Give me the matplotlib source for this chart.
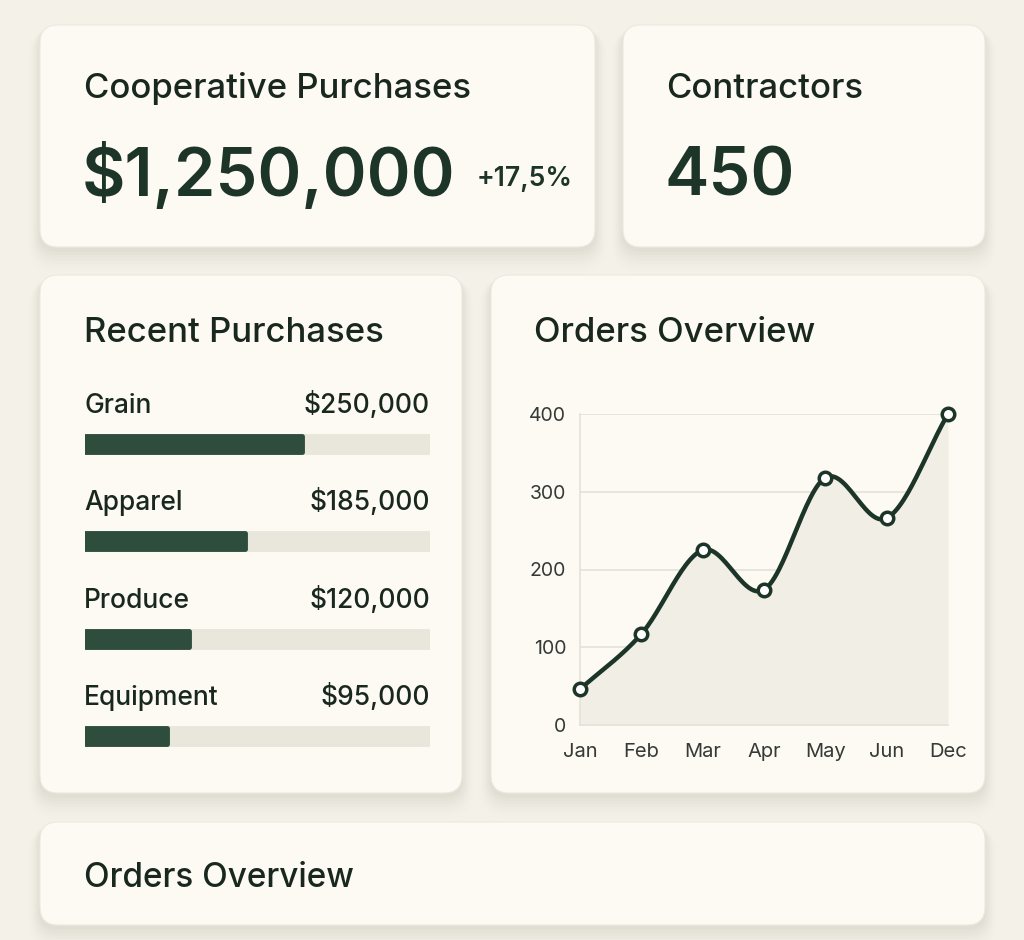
import numpy as np
import matplotlib
matplotlib.use("Agg")
import matplotlib.pyplot as plt
from matplotlib.patches import FancyBboxPatch

plt.rcParams['font.family'] = ['Inter', 'DejaVu Sans']

# ---------------- data ----------------
kpi_title_1 = "Cooperative Purchases"
kpi_value_1 = "$1,250,000"
kpi_change_1 = "+17,5%"
kpi_title_2 = "Contractors"
kpi_value_2 = "450"

categories = ["Grain", "Apparel", "Produce", "Equipment"]
purchases = [250000, 185000, 120000, 95000]
purchase_scale_max = 398000

months = ["Jan", "Feb", "Mar", "Apr", "May", "Jun", "Dec"]
orders = [46, 117, 225, 174, 318, 266, 400]
order_ticks = [0, 100, 200, 300, 400]

# ---------------- style ----------------
W, H = 1024, 940
BG = "#f3f1e8"
CARD = "#fcfaf3"
TEXT = "#19281f"
GREEN = "#1d3528"
BAR = "#2e4d3c"
TRACK = "#e9e7dc"
FILL = "#f1efe5"
GRID = "#e4e2d8"
TICK = "#363a37"

fig = plt.figure(figsize=(W / 100, H / 100), dpi=100, facecolor=BG)
bg = fig.add_axes([0, 0, 1, 1])
bg.set_xlim(0, W)
bg.set_ylim(H, 0)
bg.axis("off")
bg.set_facecolor(BG)


def card(x0, y0, x1, y1, r=18):
    # soft shadow
    for i, a in enumerate([0.03, 0.026, 0.022, 0.018, 0.014, 0.011, 0.008, 0.006]):
        g = 2 + i * 3
        bg.add_patch(FancyBboxPatch((x0 - g / 2, y0 + 3), x1 - x0 + g, y1 - y0 + g,
                                    boxstyle=f"round,pad=0,rounding_size={r + g / 2}",
                                    fc="#8a8570", ec="none", alpha=a, zorder=1))
    bg.add_patch(FancyBboxPatch((x0, y0), x1 - x0, y1 - y0,
                                boxstyle=f"round,pad=0,rounding_size={r}",
                                fc=CARD, ec="#ece9df", lw=0.8, zorder=2))


card(40, 25, 595, 247)
card(623, 25, 985, 247)
card(40, 275, 462, 793)
card(491, 275, 985, 793)
card(40, 822, 985, 925)

# KPI cards
bg.text(84, 98, kpi_title_1, fontsize=25, fontweight="medium", color=TEXT, va="baseline", zorder=5)
bg.text(82, 196, kpi_value_1, fontsize=48, fontweight="semibold", color=GREEN, va="baseline", zorder=5)
bg.text(477, 186, kpi_change_1, fontsize=19, fontweight="semibold", color=GREEN, va="baseline", zorder=5)
bg.text(666, 98, kpi_title_2, fontsize=25, fontweight="medium", color=TEXT, va="baseline", zorder=5)
bg.text(664, 196, kpi_value_2, fontsize=48, fontweight="semibold", color=GREEN, va="baseline", zorder=5)

# Section titles
bg.text(84, 342, "Recent Purchases", fontsize=25, fontweight="medium", color=TEXT, va="baseline", zorder=5)
bg.text(534, 342, "Orders Overview", fontsize=25, fontweight="medium", color=TEXT, va="baseline", zorder=5)
bg.text(84, 887, "Orders Overview", fontsize=24, fontweight="medium", color=TEXT, va="baseline", zorder=5)

# ---------------- Recent purchases bars ----------------
row0, step = 444, 97.3
bx0, bx1 = 85, 430
top_px, bot_px = row0 - 0.5 * step, row0 + 3.5 * step
bax = fig.add_axes([bx0 / W, 1 - bot_px / H, (bx1 - bx0) / W, (bot_px - top_px) / H])
bax.set_xlim(0, purchase_scale_max)
bax.set_ylim(3.5, -0.5)
bax.axis("off")
bax.patch.set_alpha(0)
ypos = np.arange(len(categories))
bh = 16 / step
bax.barh(ypos, [purchase_scale_max] * len(categories), height=bh, color=TRACK,
         edgecolor=TRACK, lw=3.5, joinstyle="round", zorder=1)
bax.barh(ypos, purchases, height=bh, color=BAR, edgecolor=BAR, lw=3.5,
         joinstyle="round", zorder=2)
for i, (c, v) in enumerate(zip(categories, purchases)):
    yb = row0 + i * step - 31
    bg.text(84, yb, c, fontsize=19, fontweight="medium", color=TEXT, va="baseline", zorder=5)
    bg.text(430, yb, f"${v:,.0f}", fontsize=19, fontweight="medium", color=TEXT,
            va="baseline", ha="right", zorder=5)

# ---------------- Orders line chart ----------------
lx0, lx1 = 580, 948
ly0, ly1 = 725, 414
lax = fig.add_axes([lx0 / W, 1 - ly0 / H, (lx1 - lx0) / W, (ly0 - ly1) / H])
lax.patch.set_alpha(0)
x = np.arange(len(months))
lax.set_xlim(0, len(months) - 1)
lax.set_ylim(0, 400)


def catmull(xs, ys, n=30):
    P = np.column_stack([xs, ys]).astype(float)
    P = np.vstack([P[0] - (P[1] - P[0]), P, P[-1] + (P[-1] - P[-2])])
    out = []
    t = np.linspace(0, 1, n)[:, None]
    for k in range(1, len(P) - 2):
        p0, p1, p2, p3 = P[k - 1], P[k], P[k + 1], P[k + 2]
        seg = 0.5 * ((2 * p1) + (-p0 + p2) * t + (2 * p0 - 5 * p1 + 4 * p2 - p3) * t ** 2
                     + (-p0 + 3 * p1 - 3 * p2 + p3) * t ** 3)
        out.append(seg if k == 1 else seg[1:])
    S = np.vstack(out)
    return S[:, 0], S[:, 1]


sx, sy = catmull(x, orders)
lax.fill_between(sx, sy, 0, color=FILL, zorder=1, lw=0)
lax.plot(sx, sy, color=GREEN, lw=3.2, zorder=3, solid_capstyle="round")
lax.plot(x, orders, "o", ms=9, mfc="white", mec=GREEN, mew=2.5, zorder=4, clip_on=False)

lax.set_yticks(order_ticks)
lax.set_xticks(x)
lax.set_xticklabels(months)
lax.grid(axis="y", color=GRID, lw=1.2, zorder=0)
lax.set_axisbelow(True)
for s in ["top", "right"]:
    lax.spines[s].set_visible(False)
for s in ["left", "bottom"]:
    lax.spines[s].set_color(GRID)
    lax.spines[s].set_linewidth(1.2)
lax.tick_params(length=0, labelsize=14, colors=TICK, pad=10)
lax.tick_params(axis="x", pad=13)
for lbl in lax.get_xticklabels():
    lbl.set_fontsize(14.5)

fig.savefig("out.png", dpi=100, facecolor=BG)
